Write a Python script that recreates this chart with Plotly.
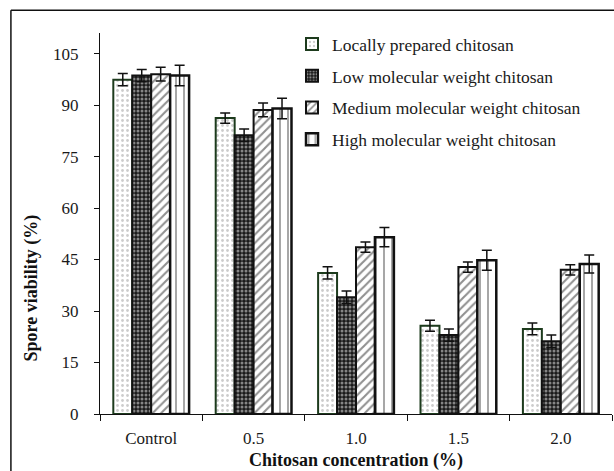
import plotly.graph_objects as go

# Chitosan concentration groups (x categories)
concentrations = ["Control", "0.5", "1.0", "1.5", "2.0"]

# Spore viability (%) per chitosan type
locally_prepared = [97.4, 86.2, 41.1, 25.7, 24.8]
low_mw = [98.6, 81.2, 34.0, 23.0, 21.2]
medium_mw = [99.0, 88.6, 48.6, 42.8, 42.0]
high_mw = [98.6, 89.0, 51.5, 44.8, 43.7]

# Standard errors
locally_err = [1.8, 1.5, 1.8, 1.6, 1.7]
low_err = [1.8, 1.8, 1.8, 1.8, 1.8]
medium_err = [2.0, 2.0, 1.5, 1.5, 1.5]
high_err = [3.0, 3.0, 2.8, 2.9, 2.6]

y_ticks = [0, 15, 30, 45, 60, 75, 90, 105]

SERIF = "Liberation Serif"

series = [
    ("Locally prepared chitosan", locally_prepared, locally_err,
     dict(color="white", line=dict(color="#1d3b1d", width=2),
          pattern=dict(shape=".", fgcolor="#9a9a9a", bgcolor="white", size=5, solidity=0.25))),
    ("Low molecular weight chitosan", low_mw, low_err,
     dict(color="#1a1a1a", line=dict(color="#111111", width=2),
          pattern=dict(shape=".", fgcolor="#f2f2f2", bgcolor="#1a1a1a", size=4, solidity=0.45))),
    ("Medium molecular weight chitosan", medium_mw, medium_err,
     dict(color="white", line=dict(color="#111111", width=2),
          pattern=dict(shape="/", fgcolor="#222222", bgcolor="white", size=6, solidity=0.35))),
    ("High molecular weight chitosan", high_mw, high_err,
     dict(color="white", line=dict(color="#111111", width=2.5),
          pattern=dict(shape="|", fgcolor="#222222", bgcolor="white", size=8, solidity=0.2))),
]

fig = go.Figure()
for i, (name, vals, errs, marker) in enumerate(series):
    fig.add_trace(go.Bar(
        name=name,
        x=concentrations,
        y=vals,
        marker=marker,
        legendgroup=f"g{i}",
        error_y=dict(type="data", array=errs, visible=True,
                     color="#111111", thickness=1.5, width=5),
    ))

fig.update_layout(
    width=614,
    height=471,
    margin=dict(l=100, r=2, t=33, b=57),
    paper_bgcolor="white",
    plot_bgcolor="white",
    barmode="group",
    bargap=0.26,
    bargroupgap=0,
    font=dict(family=SERIF, color="#1a1a1a", size=16),
    showlegend=True,
    legend=dict(
        x=0.375, y=1.018, xanchor="left", yanchor="top",
        traceorder="grouped", tracegroupgap=6,
        font=dict(family=SERIF, size=17.5, color="#1a1a1a"),
        bgcolor="rgba(0,0,0,0)",
        itemwidth=30,
    ),
    xaxis=dict(
        type="category",
        showline=True, linecolor="#111111", linewidth=1.3,
        ticks="outside", tickson="boundaries", ticklen=6,
        tickcolor="#111111", tickwidth=1.3,
        ticklabelstandoff=8,
        tickfont=dict(family=SERIF, size=17, color="#1a1a1a"),
        title=dict(text="<b>Chitosan concentration (%)</b>",
                   font=dict(family=SERIF, size=18, color="#111111"),
                   standoff=7),
        showgrid=False, zeroline=False,
    ),
    yaxis=dict(
        range=[0, 111],
        tickvals=y_ticks,
        showline=True, linecolor="#111111", linewidth=1.3,
        ticks="outside", ticklen=5, tickcolor="#111111", tickwidth=1.3,
        ticklabelstandoff=12,
        tickfont=dict(family=SERIF, size=17, color="#1a1a1a"),
        showgrid=False, zeroline=False,
    ),
)

# Y-axis title, placed beside the lower part of the axis
fig.add_annotation(
    text="<b>Spore viability (%)</b>",
    xref="paper", yref="paper", x=-0.133, y=0.332,
    xanchor="center", yanchor="middle", textangle=-90, showarrow=False,
    font=dict(family=SERIF, size=18, color="#111111"),
)

# Outer frame: left and top edges of the figure border
fig.add_shape(type="line", xref="paper", yref="paper",
              x0=-0.174, x1=-0.174, y0=-0.3, y1=1.06,
              line=dict(color="#111111", width=1.5))
fig.add_shape(type="line", xref="paper", yref="paper",
              x0=-0.174, x1=1.2, y0=1.06, y1=1.06,
              line=dict(color="#111111", width=1.5))

fig.write_html("out.html")
